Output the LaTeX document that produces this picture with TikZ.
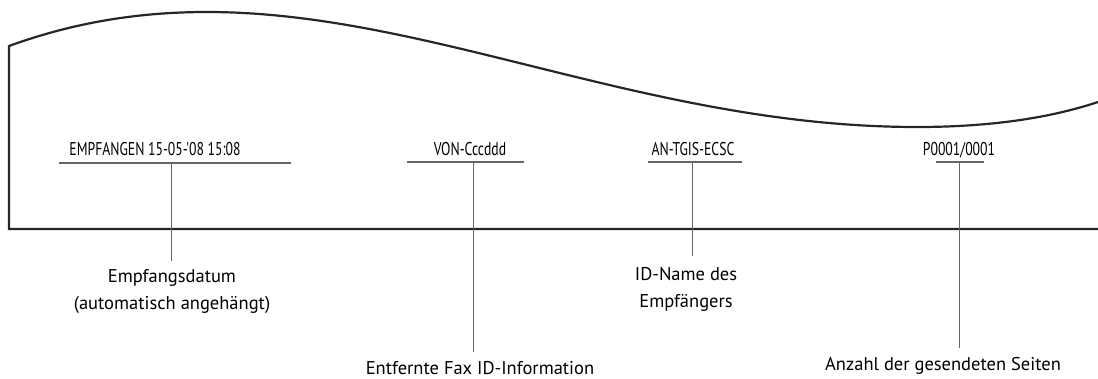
\documentclass[tikz,border=0pt]{standalone}
\usepackage{fontspec}
\setmainfont{PT Sans}
\newfontfamily\condfont[FakeStretch=0.74]{PT Sans}
\begin{document}
\begin{tikzpicture}[x=1pt,y=-1pt,
  paper/.style={line width=2.2pt,draw=black!85},
  leader/.style={line width=1pt,draw=black!60},
  uline/.style={line width=1.2pt,draw=black!60},
  fieldlbl/.style={font=\condfont\fontsize{18.5}{20}\selectfont,anchor=base,inner sep=0pt},
  desclbl/.style={font=\fontsize{18.5}{27}\selectfont,anchor=base,align=center,inner sep=0pt}]
\useasboundingbox (0,0) rectangle (1098,378);
% paper outline
\draw[paper] (1098,229) -- (9,229) -- (9,46)
  .. controls (75,22) and (140,12) .. (207,12)
  .. controls (430,12) and (650,127) .. (917,127)
  .. controls (990,127) and (1050,118) .. (1098,102);
% field labels
\node[fieldlbl] (f1) at (155,155) {EMPFANGEN 15-05-'08 15:08};
\node[fieldlbl] (f2) at (470,155) {VON-Cccddd};
\node[fieldlbl] (f3) at (693,155) {AN-TGIS-ECSC};
\node[fieldlbl] (f4) at (959,155) {P0001/0001};
% underlines
\coordinate (u1l) at (59,163);  \coordinate (u1r) at (291,163);
\coordinate (u2l) at (407,162); \coordinate (u2r) at (524,162);
\coordinate (u3l) at (648,162); \coordinate (u3r) at (742,162);
\coordinate (u4l) at (936,162); \coordinate (u4r) at (984,162);
\draw[uline] (u1l) -- (u1r);
\draw[uline] (u2l) -- (u2r);
\draw[uline] (u3l) -- (u3r);
\draw[uline] (u4l) -- (u4r);
% descriptions (base anchor = last line)
\node[desclbl] (d1) at (172,309) {Empfangsdatum\\(automatisch angehängt)};
\node[desclbl] (d2) at (480,374) {Entfernte Fax ID-Information};
\node[desclbl] (d3) at (686,307) {ID-Name des\\Empfängers};
\node[desclbl] (d4) at (943,370) {Anzahl der gesendeten Seiten};
% leader lines
\coordinate (t1) at (171,163); \coordinate (b1) at (171,261);
\coordinate (t2) at (473,162); \coordinate (b2) at (473,352);
\coordinate (t3) at (692,162); \coordinate (b3) at (692,256);
\coordinate (t4) at (959,162); \coordinate (b4) at (959,348);
\draw[leader] (t1) -- (b1);
\draw[leader] (t2) -- (b2);
\draw[leader] (t3) -- (b3);
\draw[leader] (t4) -- (b4);
\end{tikzpicture}
\end{document}
